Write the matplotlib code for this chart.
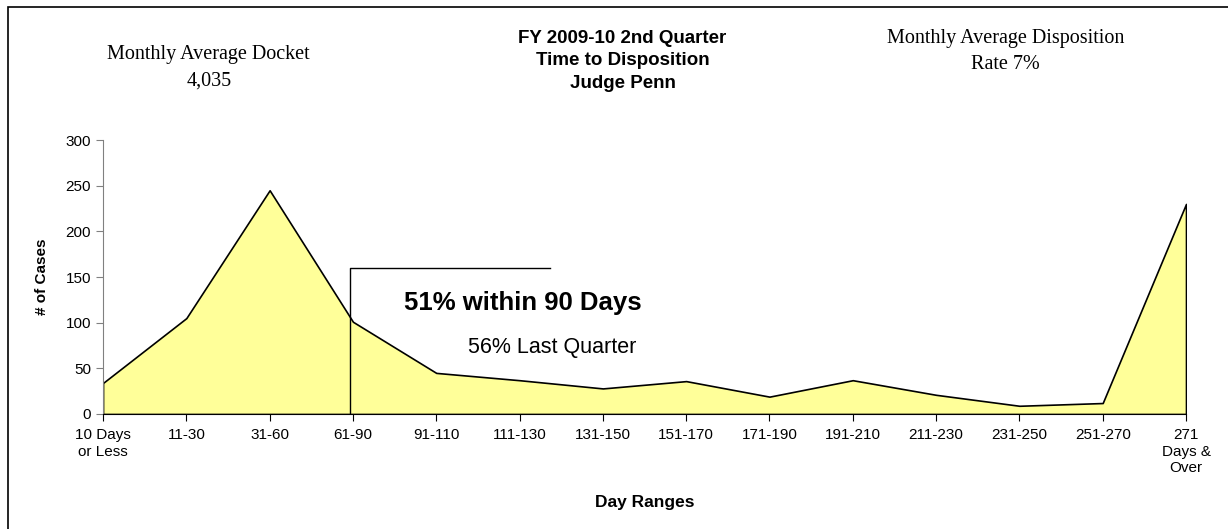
import matplotlib.pyplot as plt
from matplotlib.patches import Rectangle

# Données
day_ranges = ['10 Days\nor Less', '11-30', '31-60', '61-90', '91-110', '111-130',
              '131-150', '151-170', '171-190', '191-210', '211-230', '231-250',
              '251-270', '271\nDays &\nOver']
cases = [34, 105, 245, 101, 45, 37, 28, 36, 19, 37, 21, 9, 12, 230]

fig = plt.figure(figsize=(12.28, 5.29), dpi=100)
ax = fig.add_axes([0.0839, 0.2174, 0.8819, 0.5179])

x = list(range(len(cases)))
ax.fill_between(x, cases, 0, facecolor='#FFFF99', edgecolor='black', linewidth=1.2)

ax.set_xlim(0, len(cases) - 1)
ax.set_ylim(0, 300)
ax.set_xticks(x)
ax.set_xticklabels(day_ranges, fontsize=11, fontfamily='Liberation Sans', linespacing=1.25)
ax.set_yticks(range(0, 301, 50))
ax.tick_params(axis='y', labelsize=11, direction='out', length=5, color='#808080')
ax.tick_params(axis='x', direction='out', length=5, pad=5)
for lab in ax.get_yticklabels():
    lab.set_fontfamily('Liberation Sans')

ax.spines['top'].set_visible(False)
ax.spines['right'].set_visible(False)
ax.spines['left'].set_color('#808080')
ax.spines['bottom'].set_color('black')

ax.set_ylabel('# of Cases', fontsize=11, fontweight='bold', fontfamily='Liberation Sans', labelpad=12)
ax.set_xlabel('Day Ranges', fontsize=12.5, fontweight='bold', fontfamily='Liberation Sans', labelpad=14)

# Repère des 90 jours
ax.plot([2.96, 2.96, 5.37], [0, 160, 160], color='black', linewidth=1)
ax.text(5.04, 122, '51% within 90 Days', fontsize=18.5, fontweight='bold',
        fontfamily='Liberation Sans', ha='center', va='center')
ax.text(5.39, 73, '56% Last Quarter', fontsize=15.5, fontfamily='Liberation Sans',
        ha='center', va='center')

# Titres
fig.text(0.170, 0.872, 'Monthly Average Docket\n4,035', fontsize=14.5, fontfamily='Liberation Serif',
         ha='center', va='center', linespacing=1.5)
fig.text(0.507, 0.885, 'FY 2009-10 2nd Quarter\nTime to Disposition\nJudge Penn', fontsize=13.5,
         fontweight='bold', fontfamily='Liberation Sans', ha='center', va='center', linespacing=1.4)
fig.text(0.819, 0.903, 'Monthly Average Disposition\nRate 7%', fontsize=14.5, fontfamily='Liberation Serif',
         ha='center', va='center', linespacing=1.5)

# Cadre
fig.patches.append(Rectangle((8 / 1228, -0.05), 1.1, 1 - 7 / 529 + 0.05, transform=fig.transFigure,
                             fill=False, edgecolor='black', linewidth=1.2))

plt.savefig('out.png', dpi=100)
